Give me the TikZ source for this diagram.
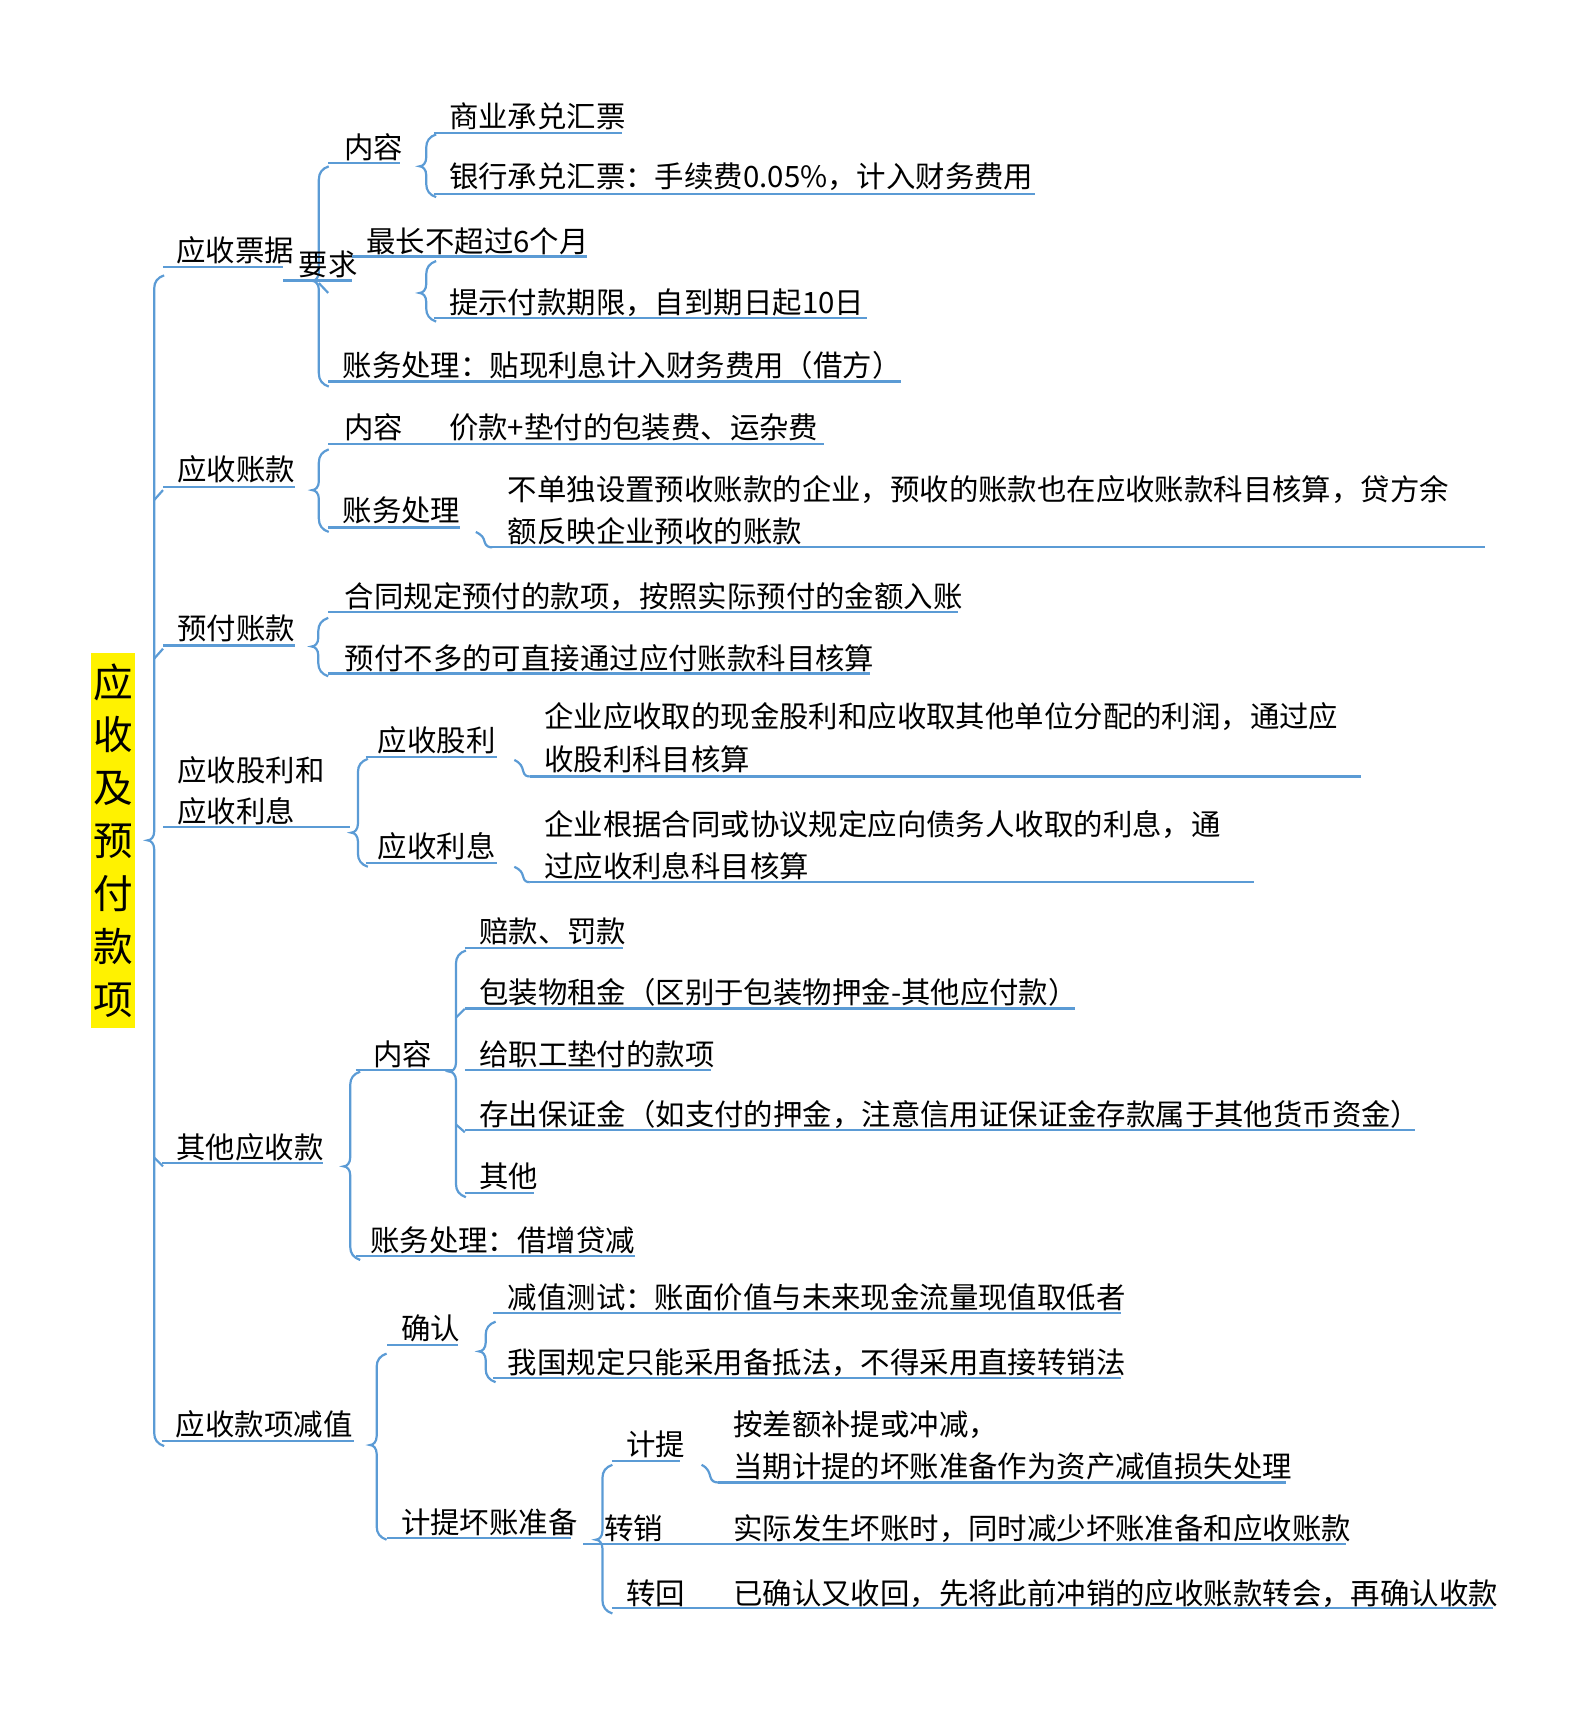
\documentclass[tikz,border=0pt]{standalone}
\usepackage{fontspec}
\setmainfont{Noto Sans CJK SC}
\definecolor{lnc}{RGB}{91,155,213}
\newcommand\fs{\fontsize{26.7pt}{32pt}\selectfont}
\newcommand\brc[4]{\draw[ln] ({#1+9},#2) .. controls ({#1+3},{#2+2}) and (#1,{#2+6}) .. (#1,{#2+12}) -- (#1,{#4-8}) .. controls (#1,{#4-3}) and ({#1-3},#4) .. ({#1-6},#4) .. controls ({#1-3},#4) and (#1,{#4+3}) .. (#1,{#4+8}) -- (#1,{#3-12}) .. controls (#1,{#3-6}) and ({#1+3},{#3-2}) .. ({#1+9},#3);}
\newcommand\hk[4]{\draw[ln] (#1,#2) .. controls ({#1+6},{#2+3}) and ({#1+7},{#4-9}) .. ({#1+8},{#4-5}) .. controls ({#1+9},{#4-1}) and ({#3-3},#4) .. (#3,#4);}
\tikzset{
  ln/.style={draw=lnc, line width=2pt},
  t/.style={anchor=base west, inner sep=0pt, font=\fs, text=black},
  root/.style={fill=yellow, inner sep=0pt, minimum width=40pt, minimum height=340pt, align=center, font=\fontsize{36pt}{48pt}\selectfont}
}
\begin{document}
\begin{tikzpicture}[x=1pt,y=-1pt]
\useasboundingbox (0,0) rectangle (1440,1561.7);
% root
\node[root] (root) at (103,763) {应\\收\\及\\预\\付\\款\\项};
% trunk
\brc{140}{250}{1313}{763}
\draw[ln] (140,454) -- (148,445);
\draw[ln] (140,598) -- (148,589);
\draw[ln] (140,1051) -- (148,1059);

% ===== 应收票据 =====
\node[t] (ypj) at (160,237.6) {应收票据};
\draw[ln] (148,242.2) -- (257,242.2);
\brc{289.5}{151}{351}{255}
\draw[ln] (289.5,257) -- (298,266);
\node[t] (nr1) at (312.6,144) {内容};
\draw[ln] (298,147.7) -- (363,147.7);
\brc{387}{122}{179}{151}
\node[t] (sy) at (407.6,116) {商业承兑汇票};
\draw[ln] (394,120.6) -- (565,120.6);
\node[t] (yh) at (407.6,170.5) {银行承兑汇票：手续费0.05\%，计入财务费用};
\draw[ln] (394,176.2) -- (940,176.2);
\node[t] (yq) at (271,249.7) {要求};
\draw[ln] (257,254.7) -- (320,254.7);
\node[t] (zc) at (332.6,229.6) {最长不超过6个月};
\draw[ln] (320,232.8) -- (533,232.8);
\brc{387}{237}{292}{266}
\node[t] (ts) at (407.6,284.5) {提示付款期限，自到期日起10日};
\draw[ln] (394,289) -- (787,289);
\node[t] (zw1) at (311,341.8) {账务处理：贴现利息计入财务费用（借方）};
\draw[ln] (298,346.4) -- (818,346.4);

% ===== 应收账款 =====
\node[t] (yszk) at (161,436.7) {应收账款};
\draw[ln] (148,442) -- (268,442);
\brc{289.5}{408}{483}{445}
\node[t] (nr2) at (312.6,398.5) {内容};
\node[t] (jk) at (407.6,398.5) {价款+垫付的包装费、运杂费};
\draw[ln] (298,403) -- (748,403);
\node[t] (zw2) at (311,473.9) {账务处理};
\draw[ln] (298,479) -- (418,479);
\hk{432}{483}{447}{497}
\node[t] (bd1) at (461,454.8) {不单独设置预收账款的企业，预收的账款也在应收账款科目核算，贷方余};
\node[t] (bd2) at (461,493) {额反映企业预收的账款};
\draw[ln] (447,497) -- (1348,497);

% ===== 预付账款 =====
\node[t] (yfzk) at (161,581) {预付账款};
\draw[ln] (148,586) -- (268,586);
\brc{289}{561}{614}{587}
\node[t] (ht) at (313,551.7) {合同规定预付的款项，按照实际预付的金额入账};
\draw[ln] (298,555.5) -- (870,555.5);
\node[t] (yfbd) at (313,607.7) {预付不多的可直接通过应付账款科目核算};
\draw[ln] (298,611.5) -- (790,611.5);

% ===== 应收股利和应收利息 =====
\node[t] (gl1) at (161,710) {应收股利和};
\node[t] (gl2) at (161,747) {应收利息};
\draw[ln] (148,751) -- (318,751);
\brc{325}{689}{787}{756}
\node[t] (ysgl) at (343,682.5) {应收股利};
\draw[ln] (332,687) -- (451,687);
\hk{467}{690}{481}{705}
\node[t] (qy1) at (494,660.7) {企业应收取的现金股利和应收取其他单位分配的利润，通过应};
\node[t] (qy2) at (494,700) {收股利科目核算};
\draw[ln] (481,705) -- (1236,705);
\node[t] (yslx) at (343,779) {应收利息};
\draw[ln] (332,783.8) -- (451,783.8);
\hk{467}{787}{481}{801}
\node[t] (qy3) at (494,759) {企业根据合同或协议规定应向债务人收取的利息，通};
\node[t] (qy4) at (494,797) {过应收利息科目核算};
\draw[ln] (481,801) -- (1139,801);

% ===== 其他应收款 =====
\node[t] (qt) at (160,1051.5) {其他应收款};
\draw[ln] (147,1056) -- (293,1056);
\brc{318}{973}{1144}{1059}
\node[t] (nr3) at (339,967) {内容};
\draw[ln] (323,971.5) -- (410,971.5);
\brc{414}{863}{1087}{973}
\draw[ln] (414,924) -- (422,916);
\draw[ln] (414,1021) -- (422,1028);
\node[t] (pk) at (435,856) {赔款、罚款};
\draw[ln] (422,860.4) -- (566,860.4);
\node[t] (bz) at (435,911) {包装物租金（区别于包装物押金-其他应付款）};
\draw[ln] (422,915.6) -- (976,915.6);
\node[t] (gz) at (435,967) {给职工垫付的款项};
\draw[ln] (422,971.5) -- (646,971.5);
\node[t] (cc) at (435,1021.5) {存出保证金（如支付的押金，注意信用证保证金存款属于其他货币资金）};
\draw[ln] (422,1026) -- (1285,1026);
\node[t] (qtt) at (435,1078.5) {其他};
\draw[ln] (422,1083) -- (485,1083);
\node[t] (zw3) at (336,1136) {账务处理：借增贷减};
\draw[ln] (323,1140.4) -- (577,1140.4);

% ===== 应收款项减值 =====
\node[t] (jz) at (159.6,1303.5) {应收款项减值};
\draw[ln] (147,1308) -- (321,1308);
\brc{342}{1229}{1398}{1312}
\node[t] (qr) at (364,1216.5) {确认};
\draw[ln] (351.5,1221) -- (416,1221);
\brc{441}{1200}{1255}{1227}
\node[t] (jzcs) at (461,1188) {减值测试：账面价值与未来现金流量现值取低者};
\draw[ln] (448,1192.4) -- (1018,1192.4);
\node[t] (wg) at (461,1247) {我国规定只能采用备抵法，不得采用直接转销法};
\draw[ln] (448,1251.4) -- (1018,1251.4);
\node[t] (jthz) at (364,1392) {计提坏账准备};
\draw[ln] (351.5,1396.7) -- (518.5,1396.7);
\brc{547}{1330}{1465}{1398}
\node[t] (jt) at (568.4,1321.7) {计提};
\draw[ln] (555.5,1326.2) -- (617.4,1326.2);
\hk{637}{1330}{652}{1346}
\node[t] (ac1) at (665.6,1303) {按差额补提或冲减，};
\node[t] (ac2) at (665.6,1341.6) {当期计提的坏账准备作为资产减值损失处理};
\draw[ln] (652,1346) -- (1168,1346);
\node[t] (zx) at (548.4,1398) {转销};
\node[t] (sj) at (665.6,1398) {实际发生坏账时，同时减少坏账准备和应收账款};
\draw[ln] (529.7,1402) -- (1222.5,1402);
\node[t] (zh) at (568.4,1457) {转回};
\node[t] (yqr) at (665.6,1457) {已确认又收回，先将此前冲销的应收账款转会，再确认收款};
\draw[ln] (555.5,1460.3) -- (1356,1460.3);
\end{tikzpicture}
\end{document}
